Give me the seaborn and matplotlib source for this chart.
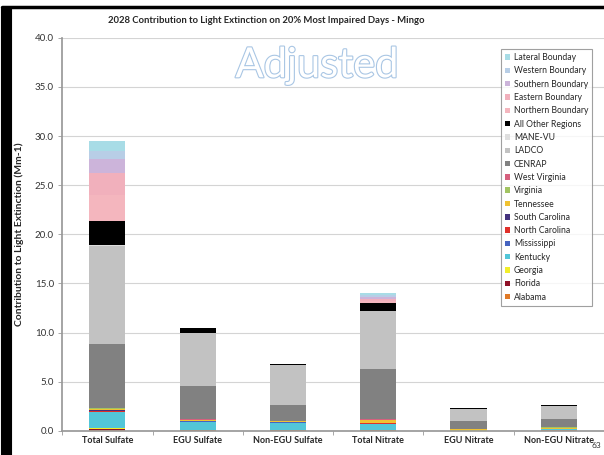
import matplotlib
matplotlib.use("Agg")
import matplotlib.pyplot as plt
import matplotlib.patheffects as pe
from matplotlib.patches import Patch
from matplotlib.lines import Line2D
from matplotlib.ticker import FormatStrFormatter, FixedLocator
import numpy as np
import seaborn as sns

sns.set_theme(style="white")
plt.rcParams["font.family"] = ["Lato", "DejaVu Sans"]

categories = ["Total Sulfate", "EGU Sulfate", "Non-EGU Sulfate",
              "Total Nitrate", "EGU Nitrate", "Non-EGU Nitrate"]

# contributions (Mm-1), stacked from the bottom up
alabama = [0.12, 0.05, 0.05, 0.05, 0.02, 0.05]
florida = [0.06, 0.02, 0.02, 0.02, 0.01, 0.02]
georgia = [0.10, 0.03, 0.03, 0.05, 0.02, 0.03]
kentucky = [1.60, 0.85, 0.75, 0.60, 0.03, 0.08]
mississippi = [0.05, 0.02, 0.02, 0.03, 0.01, 0.02]
north_carolina = [0.05, 0.03, 0.02, 0.03, 0.01, 0.02]
south_carolina = [0.10, 0.05, 0.03, 0.02, 0.01, 0.01]
tennessee = [0.15, 0.08, 0.06, 0.30, 0.05, 0.10]
virginia = [0.05, 0.02, 0.02, 0.03, 0.01, 0.02]
west_virginia = [0.05, 0.03, 0.02, 0.05, 0.02, 0.02]
cenrap = [6.50, 3.40, 1.63, 5.10, 0.80, 0.85]
ladco = [10.00, 5.40, 4.05, 5.90, 1.20, 1.35]
mane_vu = [0.05, 0.02, 0.01, 0.05, 0.01, 0.01]
all_other = [2.50, 0.50, 0.08, 0.75, 0.08, 0.05]
northern = [2.60, 0.00, 0.00, 0.25, 0.00, 0.00]
eastern = [2.30, 0.00, 0.00, 0.20, 0.00, 0.00]
southern = [1.40, 0.00, 0.00, 0.15, 0.00, 0.00]
western = [0.80, 0.00, 0.00, 0.20, 0.00, 0.00]
lateral = [1.00, 0.00, 0.00, 0.25, 0.00, 0.00]

series = [
    ("Alabama", alabama, "#e07a28"),
    ("Florida", florida, "#8e1026"),
    ("Georgia", georgia, "#f2ee2a"),
    ("Kentucky", kentucky, "#52c6d8"),
    ("Mississippi", mississippi, "#4664c0"),
    ("North Carolina", north_carolina, "#e0302a"),
    ("South Carolina", south_carolina, "#44327e"),
    ("Tennessee", tennessee, "#f0c232"),
    ("Virginia", virginia, "#a2c462"),
    ("West Virginia", west_virginia, "#d6607e"),
    ("CENRAP", cenrap, "#818181"),
    ("LADCO", ladco, "#c2c2c2"),
    ("MANE-VU", mane_vu, "#dedede"),
    ("All Other Regions", all_other, "#000000"),
    ("Northern Boundary", northern, "#f4b6be"),
    ("Eastern Boundary", eastern, "#f1b0bc"),
    ("Southern Boundary", southern, "#ccb4da"),
    ("Western Boundary", western, "#b8cee6"),
    ("Lateral Bounday", lateral, "#a8dce6"),
]

fig = plt.figure(figsize=(6.04, 4.55), dpi=100)
ax = fig.add_axes([0.103, 0.053, 0.897, 0.864])

# stacked bars: draw cumulative heights from the top layer down
cum = np.cumsum([np.array(v) for _, v, _ in series], axis=0)
for i in range(len(series) - 1, -1, -1):
    sns.barplot(x=categories, y=cum[i], order=categories, color=series[i][2],
                saturation=1, width=0.4, linewidth=0, errorbar=None, ax=ax)

ax.set_ylim(0, 40)
ax.set_xlim(-0.5, 5.5)
ax.set_yticks(np.arange(0, 40.1, 5))
ax.yaxis.set_major_formatter(FormatStrFormatter("%.1f"))
ax.yaxis.grid(True, color="#d4d4d4", linewidth=0.8)
ax.set_axisbelow(True)
for s in ["top", "right"]:
    ax.spines[s].set_visible(False)
ax.spines["left"].set_color("#999999")
ax.spines["bottom"].set_color("#999999")
ax.tick_params(axis="y", which="major", direction="out", length=3, width=0.6,
               color="#999999", labelsize=7, labelcolor="#333333", pad=3, left=True)
ax.tick_params(axis="x", which="major", length=0, labelsize=6.5, pad=4)
ax.xaxis.set_minor_locator(FixedLocator(np.arange(-0.5, 5.6, 1)))
ax.tick_params(axis="x", which="minor", direction="out", length=3, width=0.6,
               color="#999999", bottom=True)
for lbl in ax.get_xticklabels():
    lbl.set_fontweight("bold")
ax.set_xlabel("")
ax.set_ylabel("Contribution to Light Extinction (Mm-1)", fontsize=7.5,
              fontweight="bold", labelpad=8)

fig.text(0.44, 0.955, "2028 Contribution to Light Extinction on 20% Most Impaired Days - Mingo",
         ha="center", va="center", fontsize=6.8, fontweight="bold")

ax.text(0.47, 0.93, "Adjusted", transform=ax.transAxes, ha="center", va="center",
        fontsize=30, color="white", zorder=5,
        path_effects=[pe.Stroke(linewidth=1.6, foreground="#a9c6e4"), pe.Normal()])

handles = [Patch(facecolor=c, edgecolor="none", label=n) for n, _, c in series[::-1]]
leg = fig.legend(handles=handles, loc="upper left",
                 bbox_to_anchor=(497 / 604, 1 - 45 / 455), fontsize=6.2,
                 handlelength=0.6, handleheight=0.6, handletextpad=0.4,
                 labelspacing=0.5, borderpad=0.45, frameon=True, fancybox=False)
leg.get_frame().set_edgecolor("#888888")
leg.get_frame().set_linewidth(0.8)

fig.text(0.988, 0.02, "63", ha="center", va="center", fontsize=6, color="#333333")

# page frame
fig.add_artist(Line2D([0.01, 0.01], [0, 0.985], color="black", linewidth=8,
                      transform=fig.transFigure, solid_capstyle="butt"))
fig.add_artist(Line2D([0.004, 1.0], [0.985, 0.985], color="black", linewidth=2.5,
                      transform=fig.transFigure))

fig.savefig("out.png", dpi=100, facecolor="white")
